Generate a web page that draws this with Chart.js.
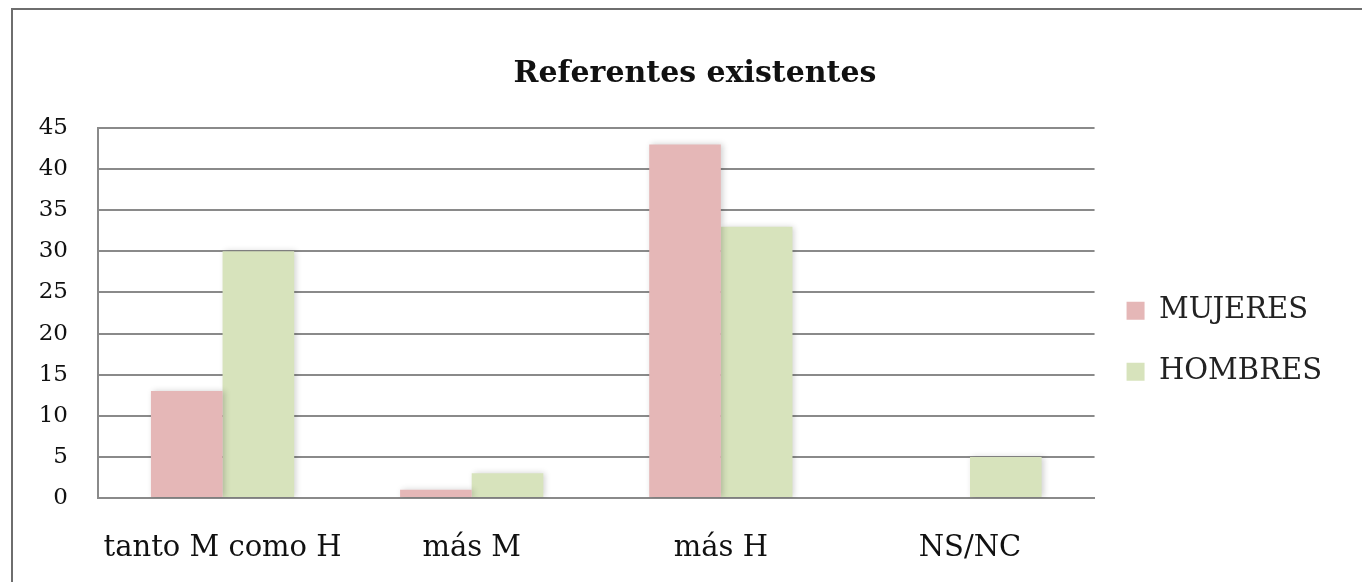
<!DOCTYPE html>
<html>
<head>
<meta charset="utf-8">
<script src="https://cdn.jsdelivr.net/npm/chart.js@4"></script>
<style>
  body { margin: 0; background: #fff; }
  #frame { position: absolute; left: 11px; top: 8px; width: 1360px; height: 600px; border: 2px solid #6e6e6e; }
  #wrap { position: absolute; left: 0; top: 0; width: 1362px; height: 582px; }
  #title { position: absolute; left: 495px; width: 400px; top: 54px; text-align: center;
           font: bold 30px 'DejaVu Serif', 'Liberation Serif', serif; color: #111; line-height: 36px; }
</style>
</head>
<body>
<div id="frame"></div>
<div id="wrap"><canvas id="chart"></canvas></div>
<div id="title">Referentes existentes</div>
<script>
/*----- data -----*/
const categories = ["tanto M como H", "más M", "más H", "NS/NC"]
const mujeres = [13, 1, 43, 0]
const hombres = [30, 3, 33, 5]
const yTicks = [0, 5, 10, 15, 20, 25, 30, 35, 40, 45]

const serif = "'DejaVu Serif', 'Liberation Serif', serif"
const gridGray = '#8a8a8a'

// soft shadow behind the bars, like the office chart
const barShadow = {
  id: 'barShadow',
  beforeDatasetsDraw(chart) {
    const ctx = chart.ctx
    ctx.save()
    ctx.shadowColor = 'rgba(0,0,0,0.18)'
    ctx.shadowBlur = 6
    ctx.shadowOffsetX = 2
    ctx.shadowOffsetY = 0
  },
  afterDatasetsDraw(chart) {
    chart.ctx.restore()
  }
}

new Chart(document.getElementById('chart'), {
  type: 'bar',
  data: {
    labels: categories,
    datasets: [
      { label: 'MUJERES', data: mujeres, backgroundColor: '#e5b7b7', borderWidth: 0 },
      { label: 'HOMBRES', data: hombres, backgroundColor: '#d7e3bc', borderWidth: 0 }
    ]
  },
  options: {
    responsive: true,
    maintainAspectRatio: false,
    animation: false,
    // top padding leaves room for the html title above the plot
    layout: { padding: { left: 30, right: 30, top: 128, bottom: 0 } },
    datasets: { bar: { categoryPercentage: 0.575, barPercentage: 1 } },
    plugins: {
      title: { display: false },
      legend: {
        position: 'right',
        align: 'start',
        title: { display: true, text: ' ', font: { size: 1 }, padding: { top: 135, bottom: 0 } },
        labels: {
          color: '#222',
          font: { family: serif, size: 29 },
          boxWidth: 18,
          boxHeight: 18,
          padding: 32
        }
      },
      tooltip: { enabled: false }
    },
    scales: {
      x: {
        afterFit: axis => { axis.height = 84 },
        grid: { display: false, drawTicks: false },
        border: { color: gridGray, width: 2 },
        ticks: { color: '#111', font: { family: serif, size: 29 }, padding: 33 }
      },
      y: {
        min: 0,
        max: 45,
        afterBuildTicks: axis => { axis.ticks = yTicks.map(v => ({ value: v })) },
        afterFit: axis => { axis.width = 68 },
        grid: { color: gridGray, lineWidth: 2, drawTicks: false },
        border: { color: gridGray, width: 2 },
        ticks: { color: '#111', font: { family: serif, size: 23 }, padding: 30 }
      }
    }
  },
  plugins: [barShadow]
})
</script>
</body>
</html>
